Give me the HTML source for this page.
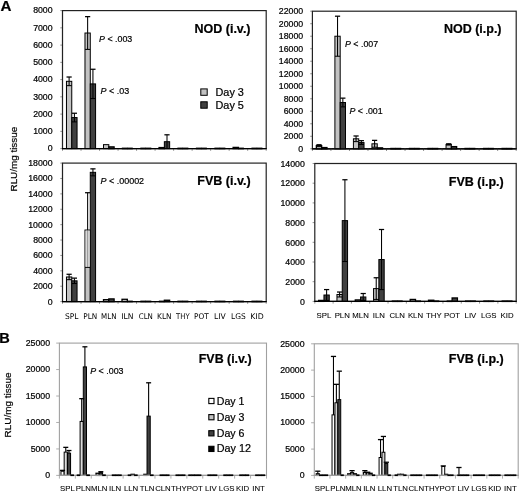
<!DOCTYPE html>
<html lang="en"><head><meta charset="utf-8"><title>Figure</title>
<style>html,body{margin:0;padding:0;background:#fff;}svg{display:block;}text{stroke:#000;stroke-width:0.22px;}</style>
</head><body>
<svg width="520" height="493" viewBox="0 0 520 493">
<defs><filter id="soft" x="0" y="0" width="520" height="493" filterUnits="userSpaceOnUse"><feGaussianBlur stdDeviation="0.35"/></filter></defs>
<rect x="0" y="0" width="520" height="493" fill="#fff"/>
<g filter="url(#soft)">
<rect x="66.46" y="81.32" width="5.3" height="67.28" fill="#c2c2c2" stroke="#000" stroke-width="1"/>
<rect x="84.98" y="33.02" width="5.3" height="115.58" fill="#c2c2c2" stroke="#000" stroke-width="1"/>
<rect x="103.5" y="144.63" width="5.3" height="3.97" fill="#c2c2c2" stroke="#000" stroke-width="1"/>
<rect x="159.05" y="147.56" width="5.3" height="1.04" fill="#c2c2c2" stroke="#000" stroke-width="1.3"/>
<rect x="233.12" y="147.39" width="5.3" height="1.21" fill="#c2c2c2" stroke="#000" stroke-width="1.3"/>
<rect x="71.76" y="117.55" width="5.3" height="31.05" fill="#404040" stroke="#000" stroke-width="1"/>
<rect x="90.28" y="83.91" width="5.3" height="64.69" fill="#404040" stroke="#000" stroke-width="1"/>
<rect x="108.8" y="146.88" width="5.3" height="1.73" fill="#404040" stroke="#000" stroke-width="1.3"/>
<rect x="164.35" y="141.7" width="5.3" height="6.9" fill="#404040" stroke="#000" stroke-width="1"/>
<line x1="69.11" y1="77.01" x2="69.11" y2="85.64" stroke="#000" stroke-width="1.05" />
<line x1="66.51" y1="77.01" x2="71.71" y2="77.01" stroke="#000" stroke-width="1.25" />
<line x1="66.51" y1="85.64" x2="71.71" y2="85.64" stroke="#000" stroke-width="1.05" />
<line x1="87.63" y1="16.64" x2="87.63" y2="49.41" stroke="#000" stroke-width="1.05" />
<line x1="85.03" y1="16.64" x2="90.23" y2="16.64" stroke="#000" stroke-width="1.25" />
<line x1="85.03" y1="49.41" x2="90.23" y2="49.41" stroke="#000" stroke-width="1.05" />
<line x1="74.41" y1="113.24" x2="74.41" y2="121.86" stroke="#000" stroke-width="1.05" />
<line x1="71.81" y1="113.24" x2="77.01" y2="113.24" stroke="#000" stroke-width="1.25" />
<line x1="71.81" y1="121.86" x2="77.01" y2="121.86" stroke="#000" stroke-width="1.05" />
<line x1="92.93" y1="69.25" x2="92.93" y2="98.57" stroke="#000" stroke-width="1.05" />
<line x1="90.33" y1="69.25" x2="95.53" y2="69.25" stroke="#000" stroke-width="1.25" />
<line x1="90.33" y1="98.57" x2="95.53" y2="98.57" stroke="#000" stroke-width="1.05" />
<line x1="167" y1="134.8" x2="167" y2="148.6" stroke="#000" stroke-width="1.05" />
<line x1="164.4" y1="134.8" x2="169.6" y2="134.8" stroke="#000" stroke-width="1.25" />
<line x1="60.3" y1="148.6" x2="62.5" y2="148.6" stroke="#777" stroke-width="0.8" />
<text x="52.6" y="151.3" font-family='"Liberation Sans", Arial, sans-serif' font-size="8.75" text-anchor="end" font-weight="normal" font-style="normal" fill="#000" >0</text>
<line x1="60.3" y1="131.35" x2="62.5" y2="131.35" stroke="#777" stroke-width="0.8" />
<text x="52.6" y="134.05" font-family='"Liberation Sans", Arial, sans-serif' font-size="8.75" text-anchor="end" font-weight="normal" font-style="normal" fill="#000" >1000</text>
<line x1="60.3" y1="114.1" x2="62.5" y2="114.1" stroke="#777" stroke-width="0.8" />
<text x="52.6" y="116.8" font-family='"Liberation Sans", Arial, sans-serif' font-size="8.75" text-anchor="end" font-weight="normal" font-style="normal" fill="#000" >2000</text>
<line x1="60.3" y1="96.85" x2="62.5" y2="96.85" stroke="#777" stroke-width="0.8" />
<text x="52.6" y="99.55" font-family='"Liberation Sans", Arial, sans-serif' font-size="8.75" text-anchor="end" font-weight="normal" font-style="normal" fill="#000" >3000</text>
<line x1="60.3" y1="79.6" x2="62.5" y2="79.6" stroke="#777" stroke-width="0.8" />
<text x="52.6" y="82.3" font-family='"Liberation Sans", Arial, sans-serif' font-size="8.75" text-anchor="end" font-weight="normal" font-style="normal" fill="#000" >4000</text>
<line x1="60.3" y1="62.35" x2="62.5" y2="62.35" stroke="#777" stroke-width="0.8" />
<text x="52.6" y="65.05" font-family='"Liberation Sans", Arial, sans-serif' font-size="8.75" text-anchor="end" font-weight="normal" font-style="normal" fill="#000" >5000</text>
<line x1="60.3" y1="45.1" x2="62.5" y2="45.1" stroke="#777" stroke-width="0.8" />
<text x="52.6" y="47.8" font-family='"Liberation Sans", Arial, sans-serif' font-size="8.75" text-anchor="end" font-weight="normal" font-style="normal" fill="#000" >6000</text>
<line x1="60.3" y1="27.85" x2="62.5" y2="27.85" stroke="#777" stroke-width="0.8" />
<text x="52.6" y="30.55" font-family='"Liberation Sans", Arial, sans-serif' font-size="8.75" text-anchor="end" font-weight="normal" font-style="normal" fill="#000" >7000</text>
<line x1="60.3" y1="10.6" x2="62.5" y2="10.6" stroke="#777" stroke-width="0.8" />
<text x="52.6" y="13.3" font-family='"Liberation Sans", Arial, sans-serif' font-size="8.75" text-anchor="end" font-weight="normal" font-style="normal" fill="#000" >8000</text>
<line x1="62.5" y1="148.6" x2="62.5" y2="150.8" stroke="#777" stroke-width="0.8" />
<line x1="81.02" y1="148.6" x2="81.02" y2="150.8" stroke="#777" stroke-width="0.8" />
<line x1="99.54" y1="148.6" x2="99.54" y2="150.8" stroke="#777" stroke-width="0.8" />
<line x1="118.05" y1="148.6" x2="118.05" y2="150.8" stroke="#777" stroke-width="0.8" />
<line x1="136.57" y1="148.6" x2="136.57" y2="150.8" stroke="#777" stroke-width="0.8" />
<line x1="155.09" y1="148.6" x2="155.09" y2="150.8" stroke="#777" stroke-width="0.8" />
<line x1="173.61" y1="148.6" x2="173.61" y2="150.8" stroke="#777" stroke-width="0.8" />
<line x1="192.13" y1="148.6" x2="192.13" y2="150.8" stroke="#777" stroke-width="0.8" />
<line x1="210.65" y1="148.6" x2="210.65" y2="150.8" stroke="#777" stroke-width="0.8" />
<line x1="229.16" y1="148.6" x2="229.16" y2="150.8" stroke="#777" stroke-width="0.8" />
<line x1="247.68" y1="148.6" x2="247.68" y2="150.8" stroke="#777" stroke-width="0.8" />
<line x1="266.2" y1="148.6" x2="266.2" y2="150.8" stroke="#777" stroke-width="0.8" />
<rect x="62.5" y="10.6" width="203.7" height="138" fill="none" stroke="#222" stroke-width="1.2"/>
<line x1="62" y1="148.6" x2="266.7" y2="148.6" stroke="#000" stroke-width="1.25" />
<line x1="121.81" y1="148.45" x2="127.51" y2="148.45" stroke="#000" stroke-width="1.7" />
<line x1="140.33" y1="148.45" x2="146.03" y2="148.45" stroke="#000" stroke-width="1.7" />
<line x1="177.37" y1="148.45" x2="183.07" y2="148.45" stroke="#000" stroke-width="1.7" />
<line x1="195.89" y1="148.45" x2="201.59" y2="148.45" stroke="#000" stroke-width="1.7" />
<line x1="214.4" y1="148.45" x2="220.1" y2="148.45" stroke="#000" stroke-width="1.7" />
<line x1="251.44" y1="148.45" x2="257.14" y2="148.45" stroke="#000" stroke-width="1.7" />
<line x1="127.11" y1="148.45" x2="132.81" y2="148.45" stroke="#000" stroke-width="1.7" />
<line x1="145.63" y1="148.45" x2="151.33" y2="148.45" stroke="#000" stroke-width="1.7" />
<line x1="182.67" y1="148.45" x2="188.37" y2="148.45" stroke="#000" stroke-width="1.7" />
<line x1="201.19" y1="148.45" x2="206.89" y2="148.45" stroke="#000" stroke-width="1.7" />
<line x1="219.7" y1="148.45" x2="225.4" y2="148.45" stroke="#000" stroke-width="1.7" />
<line x1="238.22" y1="148.45" x2="243.92" y2="148.45" stroke="#000" stroke-width="1.7" />
<line x1="256.74" y1="148.45" x2="262.44" y2="148.45" stroke="#000" stroke-width="1.7" />
<text x="194.5" y="33" font-family='"Liberation Sans", Arial, sans-serif' font-size="12.5" text-anchor="start" font-weight="bold" font-style="normal" fill="#000" >NOD (i.v.)</text>
<rect x="316.36" y="145.67" width="5.3" height="3.13" fill="#c2c2c2" stroke="#000" stroke-width="1.3"/>
<rect x="334.89" y="36.22" width="5.3" height="112.58" fill="#c2c2c2" stroke="#000" stroke-width="1"/>
<rect x="353.42" y="138.79" width="5.3" height="10.01" fill="#c2c2c2" stroke="#000" stroke-width="1"/>
<rect x="371.95" y="143.8" width="5.3" height="5" fill="#c2c2c2" stroke="#000" stroke-width="1"/>
<rect x="446.05" y="144.42" width="5.3" height="4.38" fill="#c2c2c2" stroke="#000" stroke-width="1"/>
<rect x="321.66" y="147.55" width="5.3" height="1.25" fill="#404040" stroke="#000" stroke-width="1.3"/>
<rect x="340.19" y="102.52" width="5.3" height="46.28" fill="#404040" stroke="#000" stroke-width="1"/>
<rect x="358.72" y="142.55" width="5.3" height="6.25" fill="#404040" stroke="#000" stroke-width="1"/>
<rect x="377.25" y="147.86" width="5.3" height="0.94" fill="#404040" stroke="#000" stroke-width="1.3"/>
<rect x="451.35" y="146.61" width="5.3" height="2.19" fill="#404040" stroke="#000" stroke-width="1.3"/>
<line x1="319.01" y1="144.73" x2="319.01" y2="146.61" stroke="#000" stroke-width="1.05" />
<line x1="316.41" y1="144.73" x2="321.61" y2="144.73" stroke="#000" stroke-width="1.25" />
<line x1="316.41" y1="146.61" x2="321.61" y2="146.61" stroke="#000" stroke-width="1.05" />
<line x1="337.54" y1="16.2" x2="337.54" y2="56.23" stroke="#000" stroke-width="1.05" />
<line x1="334.94" y1="16.2" x2="340.14" y2="16.2" stroke="#000" stroke-width="1.25" />
<line x1="334.94" y1="56.23" x2="340.14" y2="56.23" stroke="#000" stroke-width="1.05" />
<line x1="356.07" y1="135.98" x2="356.07" y2="141.61" stroke="#000" stroke-width="1.05" />
<line x1="353.47" y1="135.98" x2="358.67" y2="135.98" stroke="#000" stroke-width="1.25" />
<line x1="353.47" y1="141.61" x2="358.67" y2="141.61" stroke="#000" stroke-width="1.05" />
<line x1="374.6" y1="140.36" x2="374.6" y2="147.24" stroke="#000" stroke-width="1.05" />
<line x1="372" y1="140.36" x2="377.2" y2="140.36" stroke="#000" stroke-width="1.25" />
<line x1="372" y1="147.24" x2="377.2" y2="147.24" stroke="#000" stroke-width="1.05" />
<line x1="448.7" y1="143.8" x2="448.7" y2="145.05" stroke="#000" stroke-width="1.05" />
<line x1="446.1" y1="143.8" x2="451.3" y2="143.8" stroke="#000" stroke-width="1.25" />
<line x1="446.1" y1="145.05" x2="451.3" y2="145.05" stroke="#000" stroke-width="1.05" />
<line x1="342.84" y1="98.14" x2="342.84" y2="106.89" stroke="#000" stroke-width="1.05" />
<line x1="340.24" y1="98.14" x2="345.44" y2="98.14" stroke="#000" stroke-width="1.25" />
<line x1="340.24" y1="106.89" x2="345.44" y2="106.89" stroke="#000" stroke-width="1.05" />
<line x1="361.37" y1="140.67" x2="361.37" y2="144.42" stroke="#000" stroke-width="1.05" />
<line x1="358.77" y1="140.67" x2="363.97" y2="140.67" stroke="#000" stroke-width="1.25" />
<line x1="358.77" y1="144.42" x2="363.97" y2="144.42" stroke="#000" stroke-width="1.05" />
<line x1="310.2" y1="148.8" x2="312.4" y2="148.8" stroke="#777" stroke-width="0.8" />
<text x="303.2" y="152" font-family='"Liberation Sans", Arial, sans-serif' font-size="8.75" text-anchor="end" font-weight="normal" font-style="normal" fill="#000" >0</text>
<line x1="310.2" y1="136.29" x2="312.4" y2="136.29" stroke="#777" stroke-width="0.8" />
<text x="303.2" y="139.49" font-family='"Liberation Sans", Arial, sans-serif' font-size="8.75" text-anchor="end" font-weight="normal" font-style="normal" fill="#000" >2000</text>
<line x1="310.2" y1="123.78" x2="312.4" y2="123.78" stroke="#777" stroke-width="0.8" />
<text x="303.2" y="126.98" font-family='"Liberation Sans", Arial, sans-serif' font-size="8.75" text-anchor="end" font-weight="normal" font-style="normal" fill="#000" >4000</text>
<line x1="310.2" y1="111.27" x2="312.4" y2="111.27" stroke="#777" stroke-width="0.8" />
<text x="303.2" y="114.47" font-family='"Liberation Sans", Arial, sans-serif' font-size="8.75" text-anchor="end" font-weight="normal" font-style="normal" fill="#000" >6000</text>
<line x1="310.2" y1="98.76" x2="312.4" y2="98.76" stroke="#777" stroke-width="0.8" />
<text x="303.2" y="101.96" font-family='"Liberation Sans", Arial, sans-serif' font-size="8.75" text-anchor="end" font-weight="normal" font-style="normal" fill="#000" >8000</text>
<line x1="310.2" y1="86.25" x2="312.4" y2="86.25" stroke="#777" stroke-width="0.8" />
<text x="303.2" y="89.45" font-family='"Liberation Sans", Arial, sans-serif' font-size="8.75" text-anchor="end" font-weight="normal" font-style="normal" fill="#000" >10000</text>
<line x1="310.2" y1="73.75" x2="312.4" y2="73.75" stroke="#777" stroke-width="0.8" />
<text x="303.2" y="76.95" font-family='"Liberation Sans", Arial, sans-serif' font-size="8.75" text-anchor="end" font-weight="normal" font-style="normal" fill="#000" >12000</text>
<line x1="310.2" y1="61.24" x2="312.4" y2="61.24" stroke="#777" stroke-width="0.8" />
<text x="303.2" y="64.44" font-family='"Liberation Sans", Arial, sans-serif' font-size="8.75" text-anchor="end" font-weight="normal" font-style="normal" fill="#000" >14000</text>
<line x1="310.2" y1="48.73" x2="312.4" y2="48.73" stroke="#777" stroke-width="0.8" />
<text x="303.2" y="51.93" font-family='"Liberation Sans", Arial, sans-serif' font-size="8.75" text-anchor="end" font-weight="normal" font-style="normal" fill="#000" >16000</text>
<line x1="310.2" y1="36.22" x2="312.4" y2="36.22" stroke="#777" stroke-width="0.8" />
<text x="303.2" y="39.42" font-family='"Liberation Sans", Arial, sans-serif' font-size="8.75" text-anchor="end" font-weight="normal" font-style="normal" fill="#000" >18000</text>
<line x1="310.2" y1="23.71" x2="312.4" y2="23.71" stroke="#777" stroke-width="0.8" />
<text x="303.2" y="26.91" font-family='"Liberation Sans", Arial, sans-serif' font-size="8.75" text-anchor="end" font-weight="normal" font-style="normal" fill="#000" >20000</text>
<line x1="310.2" y1="11.2" x2="312.4" y2="11.2" stroke="#777" stroke-width="0.8" />
<text x="303.2" y="14.4" font-family='"Liberation Sans", Arial, sans-serif' font-size="8.75" text-anchor="end" font-weight="normal" font-style="normal" fill="#000" >22000</text>
<line x1="312.4" y1="148.8" x2="312.4" y2="151" stroke="#777" stroke-width="0.8" />
<line x1="330.93" y1="148.8" x2="330.93" y2="151" stroke="#777" stroke-width="0.8" />
<line x1="349.45" y1="148.8" x2="349.45" y2="151" stroke="#777" stroke-width="0.8" />
<line x1="367.98" y1="148.8" x2="367.98" y2="151" stroke="#777" stroke-width="0.8" />
<line x1="386.51" y1="148.8" x2="386.51" y2="151" stroke="#777" stroke-width="0.8" />
<line x1="405.04" y1="148.8" x2="405.04" y2="151" stroke="#777" stroke-width="0.8" />
<line x1="423.56" y1="148.8" x2="423.56" y2="151" stroke="#777" stroke-width="0.8" />
<line x1="442.09" y1="148.8" x2="442.09" y2="151" stroke="#777" stroke-width="0.8" />
<line x1="460.62" y1="148.8" x2="460.62" y2="151" stroke="#777" stroke-width="0.8" />
<line x1="479.15" y1="148.8" x2="479.15" y2="151" stroke="#777" stroke-width="0.8" />
<line x1="497.67" y1="148.8" x2="497.67" y2="151" stroke="#777" stroke-width="0.8" />
<line x1="516.2" y1="148.8" x2="516.2" y2="151" stroke="#777" stroke-width="0.8" />
<rect x="312.4" y="11.2" width="203.8" height="137.6" fill="none" stroke="#222" stroke-width="1.2"/>
<line x1="311.9" y1="148.8" x2="516.7" y2="148.8" stroke="#000" stroke-width="1.25" />
<line x1="390.27" y1="148.65" x2="395.97" y2="148.65" stroke="#000" stroke-width="1.7" />
<line x1="408.8" y1="148.65" x2="414.5" y2="148.65" stroke="#000" stroke-width="1.7" />
<line x1="427.33" y1="148.65" x2="433.03" y2="148.65" stroke="#000" stroke-width="1.7" />
<line x1="464.38" y1="148.65" x2="470.08" y2="148.65" stroke="#000" stroke-width="1.7" />
<line x1="482.91" y1="148.65" x2="488.61" y2="148.65" stroke="#000" stroke-width="1.7" />
<line x1="501.44" y1="148.65" x2="507.14" y2="148.65" stroke="#000" stroke-width="1.7" />
<line x1="395.57" y1="148.65" x2="401.27" y2="148.65" stroke="#000" stroke-width="1.7" />
<line x1="414.1" y1="148.65" x2="419.8" y2="148.65" stroke="#000" stroke-width="1.7" />
<line x1="432.63" y1="148.65" x2="438.33" y2="148.65" stroke="#000" stroke-width="1.7" />
<line x1="469.68" y1="148.65" x2="475.38" y2="148.65" stroke="#000" stroke-width="1.7" />
<line x1="488.21" y1="148.65" x2="493.91" y2="148.65" stroke="#000" stroke-width="1.7" />
<line x1="506.74" y1="148.65" x2="512.44" y2="148.65" stroke="#000" stroke-width="1.7" />
<text x="443.9" y="33.3" font-family='"Liberation Sans", Arial, sans-serif' font-size="12.5" text-anchor="start" font-weight="bold" font-style="normal" fill="#000" >NOD (i.p.)</text>
<rect x="66.46" y="276.98" width="5.3" height="24.62" fill="#c2c2c2" stroke="#000" stroke-width="1"/>
<rect x="84.98" y="230.04" width="5.3" height="71.56" fill="#c2c2c2" stroke="#000" stroke-width="1"/>
<rect x="103.5" y="299.68" width="5.3" height="1.92" fill="#c2c2c2" stroke="#000" stroke-width="1.3"/>
<rect x="122.01" y="299.29" width="5.3" height="2.31" fill="#c2c2c2" stroke="#000" stroke-width="1.3"/>
<rect x="71.76" y="280.83" width="5.3" height="20.78" fill="#404040" stroke="#000" stroke-width="1"/>
<rect x="90.28" y="172.33" width="5.3" height="129.27" fill="#404040" stroke="#000" stroke-width="1"/>
<rect x="108.8" y="298.91" width="5.3" height="2.69" fill="#404040" stroke="#000" stroke-width="1.3"/>
<rect x="164.35" y="300.22" width="5.3" height="1.39" fill="#404040" stroke="#000" stroke-width="1.3"/>
<line x1="69.11" y1="274.28" x2="69.11" y2="279.67" stroke="#000" stroke-width="1.05" />
<line x1="66.51" y1="274.28" x2="71.71" y2="274.28" stroke="#000" stroke-width="1.25" />
<line x1="66.51" y1="279.67" x2="71.71" y2="279.67" stroke="#000" stroke-width="1.05" />
<line x1="87.63" y1="192.72" x2="87.63" y2="267.36" stroke="#000" stroke-width="1.05" />
<line x1="85.03" y1="192.72" x2="90.23" y2="192.72" stroke="#000" stroke-width="1.25" />
<line x1="85.03" y1="267.36" x2="90.23" y2="267.36" stroke="#000" stroke-width="1.05" />
<line x1="74.41" y1="278.13" x2="74.41" y2="283.52" stroke="#000" stroke-width="1.05" />
<line x1="71.81" y1="278.13" x2="77.01" y2="278.13" stroke="#000" stroke-width="1.25" />
<line x1="71.81" y1="283.52" x2="77.01" y2="283.52" stroke="#000" stroke-width="1.05" />
<line x1="92.93" y1="168.87" x2="92.93" y2="175.8" stroke="#000" stroke-width="1.05" />
<line x1="90.33" y1="168.87" x2="95.53" y2="168.87" stroke="#000" stroke-width="1.25" />
<line x1="90.33" y1="175.8" x2="95.53" y2="175.8" stroke="#000" stroke-width="1.05" />
<line x1="60.3" y1="301.6" x2="62.5" y2="301.6" stroke="#777" stroke-width="0.8" />
<text x="52.6" y="304.6" font-family='"Liberation Sans", Arial, sans-serif' font-size="8.75" text-anchor="end" font-weight="normal" font-style="normal" fill="#000" >0</text>
<line x1="60.3" y1="286.21" x2="62.5" y2="286.21" stroke="#777" stroke-width="0.8" />
<text x="52.6" y="289.21" font-family='"Liberation Sans", Arial, sans-serif' font-size="8.75" text-anchor="end" font-weight="normal" font-style="normal" fill="#000" >2000</text>
<line x1="60.3" y1="270.82" x2="62.5" y2="270.82" stroke="#777" stroke-width="0.8" />
<text x="52.6" y="273.82" font-family='"Liberation Sans", Arial, sans-serif' font-size="8.75" text-anchor="end" font-weight="normal" font-style="normal" fill="#000" >4000</text>
<line x1="60.3" y1="255.43" x2="62.5" y2="255.43" stroke="#777" stroke-width="0.8" />
<text x="52.6" y="258.43" font-family='"Liberation Sans", Arial, sans-serif' font-size="8.75" text-anchor="end" font-weight="normal" font-style="normal" fill="#000" >6000</text>
<line x1="60.3" y1="240.04" x2="62.5" y2="240.04" stroke="#777" stroke-width="0.8" />
<text x="52.6" y="243.04" font-family='"Liberation Sans", Arial, sans-serif' font-size="8.75" text-anchor="end" font-weight="normal" font-style="normal" fill="#000" >8000</text>
<line x1="60.3" y1="224.66" x2="62.5" y2="224.66" stroke="#777" stroke-width="0.8" />
<text x="52.6" y="227.66" font-family='"Liberation Sans", Arial, sans-serif' font-size="8.75" text-anchor="end" font-weight="normal" font-style="normal" fill="#000" >10000</text>
<line x1="60.3" y1="209.27" x2="62.5" y2="209.27" stroke="#777" stroke-width="0.8" />
<text x="52.6" y="212.27" font-family='"Liberation Sans", Arial, sans-serif' font-size="8.75" text-anchor="end" font-weight="normal" font-style="normal" fill="#000" >12000</text>
<line x1="60.3" y1="193.88" x2="62.5" y2="193.88" stroke="#777" stroke-width="0.8" />
<text x="52.6" y="196.88" font-family='"Liberation Sans", Arial, sans-serif' font-size="8.75" text-anchor="end" font-weight="normal" font-style="normal" fill="#000" >14000</text>
<line x1="60.3" y1="178.49" x2="62.5" y2="178.49" stroke="#777" stroke-width="0.8" />
<text x="52.6" y="181.49" font-family='"Liberation Sans", Arial, sans-serif' font-size="8.75" text-anchor="end" font-weight="normal" font-style="normal" fill="#000" >16000</text>
<line x1="60.3" y1="163.1" x2="62.5" y2="163.1" stroke="#777" stroke-width="0.8" />
<text x="52.6" y="166.1" font-family='"Liberation Sans", Arial, sans-serif' font-size="8.75" text-anchor="end" font-weight="normal" font-style="normal" fill="#000" >18000</text>
<line x1="62.5" y1="301.6" x2="62.5" y2="303.8" stroke="#777" stroke-width="0.8" />
<line x1="81.02" y1="301.6" x2="81.02" y2="303.8" stroke="#777" stroke-width="0.8" />
<line x1="99.54" y1="301.6" x2="99.54" y2="303.8" stroke="#777" stroke-width="0.8" />
<line x1="118.05" y1="301.6" x2="118.05" y2="303.8" stroke="#777" stroke-width="0.8" />
<line x1="136.57" y1="301.6" x2="136.57" y2="303.8" stroke="#777" stroke-width="0.8" />
<line x1="155.09" y1="301.6" x2="155.09" y2="303.8" stroke="#777" stroke-width="0.8" />
<line x1="173.61" y1="301.6" x2="173.61" y2="303.8" stroke="#777" stroke-width="0.8" />
<line x1="192.13" y1="301.6" x2="192.13" y2="303.8" stroke="#777" stroke-width="0.8" />
<line x1="210.65" y1="301.6" x2="210.65" y2="303.8" stroke="#777" stroke-width="0.8" />
<line x1="229.16" y1="301.6" x2="229.16" y2="303.8" stroke="#777" stroke-width="0.8" />
<line x1="247.68" y1="301.6" x2="247.68" y2="303.8" stroke="#777" stroke-width="0.8" />
<line x1="266.2" y1="301.6" x2="266.2" y2="303.8" stroke="#777" stroke-width="0.8" />
<rect x="62.5" y="163.1" width="203.7" height="138.5" fill="none" stroke="#222" stroke-width="1.2"/>
<line x1="62" y1="301.6" x2="266.7" y2="301.6" stroke="#000" stroke-width="1.25" />
<line x1="140.33" y1="301.45" x2="146.03" y2="301.45" stroke="#000" stroke-width="1.7" />
<line x1="158.85" y1="301.45" x2="164.55" y2="301.45" stroke="#000" stroke-width="1.7" />
<line x1="177.37" y1="301.45" x2="183.07" y2="301.45" stroke="#000" stroke-width="1.7" />
<line x1="195.89" y1="301.45" x2="201.59" y2="301.45" stroke="#000" stroke-width="1.7" />
<line x1="214.4" y1="301.45" x2="220.1" y2="301.45" stroke="#000" stroke-width="1.7" />
<line x1="232.92" y1="301.45" x2="238.62" y2="301.45" stroke="#000" stroke-width="1.7" />
<line x1="251.44" y1="301.45" x2="257.14" y2="301.45" stroke="#000" stroke-width="1.7" />
<line x1="127.11" y1="301.45" x2="132.81" y2="301.45" stroke="#000" stroke-width="1.7" />
<line x1="145.63" y1="301.45" x2="151.33" y2="301.45" stroke="#000" stroke-width="1.7" />
<line x1="182.67" y1="301.45" x2="188.37" y2="301.45" stroke="#000" stroke-width="1.7" />
<line x1="201.19" y1="301.45" x2="206.89" y2="301.45" stroke="#000" stroke-width="1.7" />
<line x1="219.7" y1="301.45" x2="225.4" y2="301.45" stroke="#000" stroke-width="1.7" />
<line x1="238.22" y1="301.45" x2="243.92" y2="301.45" stroke="#000" stroke-width="1.7" />
<line x1="256.74" y1="301.45" x2="262.44" y2="301.45" stroke="#000" stroke-width="1.7" />
<text x="71.76" y="319" font-family='"DejaVu Sans", "Liberation Sans", sans-serif' font-size="7.8" text-anchor="middle" font-weight="normal" font-style="normal" fill="#000" textLength="13.4" lengthAdjust="spacingAndGlyphs" style="stroke-width:0px">SPL</text>
<text x="90.28" y="319" font-family='"DejaVu Sans", "Liberation Sans", sans-serif' font-size="7.8" text-anchor="middle" font-weight="normal" font-style="normal" fill="#000" textLength="13.9" lengthAdjust="spacingAndGlyphs" style="stroke-width:0px">PLN</text>
<text x="108.8" y="319" font-family='"DejaVu Sans", "Liberation Sans", sans-serif' font-size="7.8" text-anchor="middle" font-weight="normal" font-style="normal" fill="#000" textLength="15.4" lengthAdjust="spacingAndGlyphs" style="stroke-width:0px">MLN</text>
<text x="127.31" y="319" font-family='"DejaVu Sans", "Liberation Sans", sans-serif' font-size="7.8" text-anchor="middle" font-weight="normal" font-style="normal" fill="#000" textLength="12.2" lengthAdjust="spacingAndGlyphs" style="stroke-width:0px">ILN</text>
<text x="145.83" y="319" font-family='"DejaVu Sans", "Liberation Sans", sans-serif' font-size="7.8" text-anchor="middle" font-weight="normal" font-style="normal" fill="#000" textLength="14.2" lengthAdjust="spacingAndGlyphs" style="stroke-width:0px">CLN</text>
<text x="164.35" y="319" font-family='"DejaVu Sans", "Liberation Sans", sans-serif' font-size="7.8" text-anchor="middle" font-weight="normal" font-style="normal" fill="#000" textLength="14.5" lengthAdjust="spacingAndGlyphs" style="stroke-width:0px">KLN</text>
<text x="182.87" y="319" font-family='"DejaVu Sans", "Liberation Sans", sans-serif' font-size="7.8" text-anchor="middle" font-weight="normal" font-style="normal" fill="#000" textLength="13.5" lengthAdjust="spacingAndGlyphs" style="stroke-width:0px">THY</text>
<text x="201.39" y="319" font-family='"DejaVu Sans", "Liberation Sans", sans-serif' font-size="7.8" text-anchor="middle" font-weight="normal" font-style="normal" fill="#000" textLength="14.7" lengthAdjust="spacingAndGlyphs" style="stroke-width:0px">POT</text>
<text x="219.9" y="319" font-family='"DejaVu Sans", "Liberation Sans", sans-serif' font-size="7.8" text-anchor="middle" font-weight="normal" font-style="normal" fill="#000" textLength="11.7" lengthAdjust="spacingAndGlyphs" style="stroke-width:0px">LIV</text>
<text x="238.42" y="319" font-family='"DejaVu Sans", "Liberation Sans", sans-serif' font-size="7.8" text-anchor="middle" font-weight="normal" font-style="normal" fill="#000" textLength="14.7" lengthAdjust="spacingAndGlyphs" style="stroke-width:0px">LGS</text>
<text x="256.94" y="319" font-family='"DejaVu Sans", "Liberation Sans", sans-serif' font-size="7.8" text-anchor="middle" font-weight="normal" font-style="normal" fill="#000" textLength="13.4" lengthAdjust="spacingAndGlyphs" style="stroke-width:0px">KID</text>
<text x="197.3" y="185" font-family='"Liberation Sans", Arial, sans-serif' font-size="12.5" text-anchor="start" font-weight="bold" font-style="normal" fill="#000" >FVB (i.v.)</text>
<rect x="318.65" y="300.41" width="5.3" height="0.98" fill="#c2c2c2" stroke="#000" stroke-width="1.3"/>
<rect x="336.96" y="294.5" width="5.3" height="6.89" fill="#c2c2c2" stroke="#000" stroke-width="1"/>
<rect x="355.27" y="299.92" width="5.3" height="1.48" fill="#c2c2c2" stroke="#000" stroke-width="1.3"/>
<rect x="373.58" y="288.59" width="5.3" height="12.8" fill="#c2c2c2" stroke="#000" stroke-width="1"/>
<rect x="410.2" y="299.43" width="5.3" height="1.97" fill="#c2c2c2" stroke="#000" stroke-width="1.3"/>
<rect x="428.51" y="300.22" width="5.3" height="1.18" fill="#c2c2c2" stroke="#000" stroke-width="1.3"/>
<rect x="323.95" y="295" width="5.3" height="6.4" fill="#404040" stroke="#000" stroke-width="1"/>
<rect x="342.26" y="220.63" width="5.3" height="80.77" fill="#404040" stroke="#000" stroke-width="1"/>
<rect x="360.57" y="296.97" width="5.3" height="4.43" fill="#404040" stroke="#000" stroke-width="1"/>
<rect x="378.88" y="259.54" width="5.3" height="41.86" fill="#404040" stroke="#000" stroke-width="1"/>
<rect x="452.12" y="297.95" width="5.3" height="3.45" fill="#404040" stroke="#000" stroke-width="1.3"/>
<line x1="339.61" y1="292.04" x2="339.61" y2="296.97" stroke="#000" stroke-width="1.05" />
<line x1="337.01" y1="292.04" x2="342.21" y2="292.04" stroke="#000" stroke-width="1.25" />
<line x1="337.01" y1="296.97" x2="342.21" y2="296.97" stroke="#000" stroke-width="1.05" />
<line x1="376.23" y1="277.76" x2="376.23" y2="299.43" stroke="#000" stroke-width="1.05" />
<line x1="373.63" y1="277.76" x2="378.83" y2="277.76" stroke="#000" stroke-width="1.25" />
<line x1="373.63" y1="299.43" x2="378.83" y2="299.43" stroke="#000" stroke-width="1.05" />
<line x1="326.6" y1="289.58" x2="326.6" y2="300.41" stroke="#000" stroke-width="1.05" />
<line x1="324" y1="289.58" x2="329.2" y2="289.58" stroke="#000" stroke-width="1.25" />
<line x1="324" y1="300.41" x2="329.2" y2="300.41" stroke="#000" stroke-width="1.05" />
<line x1="344.91" y1="179.75" x2="344.91" y2="261.51" stroke="#000" stroke-width="1.05" />
<line x1="342.31" y1="179.75" x2="347.51" y2="179.75" stroke="#000" stroke-width="1.25" />
<line x1="342.31" y1="261.51" x2="347.51" y2="261.51" stroke="#000" stroke-width="1.05" />
<line x1="363.22" y1="293.52" x2="363.22" y2="300.41" stroke="#000" stroke-width="1.05" />
<line x1="360.62" y1="293.52" x2="365.82" y2="293.52" stroke="#000" stroke-width="1.25" />
<line x1="360.62" y1="300.41" x2="365.82" y2="300.41" stroke="#000" stroke-width="1.05" />
<line x1="381.53" y1="229.5" x2="381.53" y2="289.58" stroke="#000" stroke-width="1.05" />
<line x1="378.93" y1="229.5" x2="384.13" y2="229.5" stroke="#000" stroke-width="1.25" />
<line x1="378.93" y1="289.58" x2="384.13" y2="289.58" stroke="#000" stroke-width="1.05" />
<line x1="312.6" y1="301.4" x2="314.8" y2="301.4" stroke="#777" stroke-width="0.8" />
<text x="304.8" y="304.6" font-family='"Liberation Sans", Arial, sans-serif' font-size="8.75" text-anchor="end" font-weight="normal" font-style="normal" fill="#000" >0</text>
<line x1="312.6" y1="281.7" x2="314.8" y2="281.7" stroke="#777" stroke-width="0.8" />
<text x="304.8" y="284.9" font-family='"Liberation Sans", Arial, sans-serif' font-size="8.75" text-anchor="end" font-weight="normal" font-style="normal" fill="#000" >2000</text>
<line x1="312.6" y1="262" x2="314.8" y2="262" stroke="#777" stroke-width="0.8" />
<text x="304.8" y="265.2" font-family='"Liberation Sans", Arial, sans-serif' font-size="8.75" text-anchor="end" font-weight="normal" font-style="normal" fill="#000" >4000</text>
<line x1="312.6" y1="242.3" x2="314.8" y2="242.3" stroke="#777" stroke-width="0.8" />
<text x="304.8" y="245.5" font-family='"Liberation Sans", Arial, sans-serif' font-size="8.75" text-anchor="end" font-weight="normal" font-style="normal" fill="#000" >6000</text>
<line x1="312.6" y1="222.6" x2="314.8" y2="222.6" stroke="#777" stroke-width="0.8" />
<text x="304.8" y="225.8" font-family='"Liberation Sans", Arial, sans-serif' font-size="8.75" text-anchor="end" font-weight="normal" font-style="normal" fill="#000" >8000</text>
<line x1="312.6" y1="202.9" x2="314.8" y2="202.9" stroke="#777" stroke-width="0.8" />
<text x="304.8" y="206.1" font-family='"Liberation Sans", Arial, sans-serif' font-size="8.75" text-anchor="end" font-weight="normal" font-style="normal" fill="#000" >10000</text>
<line x1="312.6" y1="183.2" x2="314.8" y2="183.2" stroke="#777" stroke-width="0.8" />
<text x="304.8" y="186.4" font-family='"Liberation Sans", Arial, sans-serif' font-size="8.75" text-anchor="end" font-weight="normal" font-style="normal" fill="#000" >12000</text>
<line x1="312.6" y1="163.5" x2="314.8" y2="163.5" stroke="#777" stroke-width="0.8" />
<text x="304.8" y="166.7" font-family='"Liberation Sans", Arial, sans-serif' font-size="8.75" text-anchor="end" font-weight="normal" font-style="normal" fill="#000" >14000</text>
<line x1="314.8" y1="301.4" x2="314.8" y2="303.6" stroke="#777" stroke-width="0.8" />
<line x1="333.11" y1="301.4" x2="333.11" y2="303.6" stroke="#777" stroke-width="0.8" />
<line x1="351.42" y1="301.4" x2="351.42" y2="303.6" stroke="#777" stroke-width="0.8" />
<line x1="369.73" y1="301.4" x2="369.73" y2="303.6" stroke="#777" stroke-width="0.8" />
<line x1="388.04" y1="301.4" x2="388.04" y2="303.6" stroke="#777" stroke-width="0.8" />
<line x1="406.35" y1="301.4" x2="406.35" y2="303.6" stroke="#777" stroke-width="0.8" />
<line x1="424.65" y1="301.4" x2="424.65" y2="303.6" stroke="#777" stroke-width="0.8" />
<line x1="442.96" y1="301.4" x2="442.96" y2="303.6" stroke="#777" stroke-width="0.8" />
<line x1="461.27" y1="301.4" x2="461.27" y2="303.6" stroke="#777" stroke-width="0.8" />
<line x1="479.58" y1="301.4" x2="479.58" y2="303.6" stroke="#777" stroke-width="0.8" />
<line x1="497.89" y1="301.4" x2="497.89" y2="303.6" stroke="#777" stroke-width="0.8" />
<line x1="516.2" y1="301.4" x2="516.2" y2="303.6" stroke="#777" stroke-width="0.8" />
<rect x="314.8" y="163.5" width="201.4" height="137.9" fill="none" stroke="#222" stroke-width="1.2"/>
<line x1="314.3" y1="301.4" x2="516.7" y2="301.4" stroke="#000" stroke-width="1.25" />
<line x1="391.69" y1="301.25" x2="397.39" y2="301.25" stroke="#000" stroke-width="1.7" />
<line x1="446.62" y1="301.25" x2="452.32" y2="301.25" stroke="#000" stroke-width="1.7" />
<line x1="464.93" y1="301.25" x2="470.63" y2="301.25" stroke="#000" stroke-width="1.7" />
<line x1="483.24" y1="301.25" x2="488.94" y2="301.25" stroke="#000" stroke-width="1.7" />
<line x1="501.55" y1="301.25" x2="507.25" y2="301.25" stroke="#000" stroke-width="1.7" />
<line x1="396.99" y1="301.25" x2="402.69" y2="301.25" stroke="#000" stroke-width="1.7" />
<line x1="415.3" y1="301.25" x2="421" y2="301.25" stroke="#000" stroke-width="1.7" />
<line x1="433.61" y1="301.25" x2="439.31" y2="301.25" stroke="#000" stroke-width="1.7" />
<line x1="470.23" y1="301.25" x2="475.93" y2="301.25" stroke="#000" stroke-width="1.7" />
<line x1="488.54" y1="301.25" x2="494.24" y2="301.25" stroke="#000" stroke-width="1.7" />
<line x1="506.85" y1="301.25" x2="512.55" y2="301.25" stroke="#000" stroke-width="1.7" />
<text x="323.95" y="317.9" font-family='"Liberation Sans", Arial, sans-serif' font-size="7.8" text-anchor="middle" font-weight="normal" font-style="normal" fill="#000" style="stroke-width:0.08px">SPL</text>
<text x="342.26" y="317.9" font-family='"Liberation Sans", Arial, sans-serif' font-size="7.8" text-anchor="middle" font-weight="normal" font-style="normal" fill="#000" style="stroke-width:0.08px">PLN</text>
<text x="360.57" y="317.9" font-family='"Liberation Sans", Arial, sans-serif' font-size="7.8" text-anchor="middle" font-weight="normal" font-style="normal" fill="#000" style="stroke-width:0.08px">MLN</text>
<text x="378.88" y="317.9" font-family='"Liberation Sans", Arial, sans-serif' font-size="7.8" text-anchor="middle" font-weight="normal" font-style="normal" fill="#000" style="stroke-width:0.08px">ILN</text>
<text x="397.19" y="317.9" font-family='"Liberation Sans", Arial, sans-serif' font-size="7.8" text-anchor="middle" font-weight="normal" font-style="normal" fill="#000" style="stroke-width:0.08px">CLN</text>
<text x="415.5" y="317.9" font-family='"Liberation Sans", Arial, sans-serif' font-size="7.8" text-anchor="middle" font-weight="normal" font-style="normal" fill="#000" style="stroke-width:0.08px">KLN</text>
<text x="433.81" y="317.9" font-family='"Liberation Sans", Arial, sans-serif' font-size="7.8" text-anchor="middle" font-weight="normal" font-style="normal" fill="#000" style="stroke-width:0.08px">THY</text>
<text x="452.12" y="317.9" font-family='"Liberation Sans", Arial, sans-serif' font-size="7.8" text-anchor="middle" font-weight="normal" font-style="normal" fill="#000" style="stroke-width:0.08px">POT</text>
<text x="470.43" y="317.9" font-family='"Liberation Sans", Arial, sans-serif' font-size="7.8" text-anchor="middle" font-weight="normal" font-style="normal" fill="#000" style="stroke-width:0.08px">LIV</text>
<text x="488.74" y="317.9" font-family='"Liberation Sans", Arial, sans-serif' font-size="7.8" text-anchor="middle" font-weight="normal" font-style="normal" fill="#000" style="stroke-width:0.08px">LGS</text>
<text x="507.05" y="317.9" font-family='"Liberation Sans", Arial, sans-serif' font-size="7.8" text-anchor="middle" font-weight="normal" font-style="normal" fill="#000" style="stroke-width:0.08px">KID</text>
<text x="448.8" y="185.5" font-family='"Liberation Sans", Arial, sans-serif' font-size="12.5" text-anchor="start" font-weight="bold" font-style="normal" fill="#000" >FVB (i.p.)</text>
<rect x="60.97" y="471.17" width="3.2" height="4.23" fill="#fff" stroke="#000" stroke-width="1"/>
<rect x="64.17" y="452.12" width="3.2" height="23.28" fill="#dcdcdc" stroke="#000" stroke-width="1"/>
<rect x="80.1" y="421.42" width="3.2" height="53.98" fill="#dcdcdc" stroke="#000" stroke-width="1"/>
<rect x="96.03" y="473.28" width="3.2" height="2.12" fill="#dcdcdc" stroke="#000" stroke-width="1.3"/>
<rect x="143.82" y="474.34" width="3.2" height="1.06" fill="#dcdcdc" stroke="#000" stroke-width="1.3"/>
<rect x="67.37" y="453.17" width="3.2" height="22.23" fill="#404040" stroke="#000" stroke-width="1"/>
<rect x="83.3" y="366.91" width="3.2" height="108.49" fill="#404040" stroke="#000" stroke-width="1"/>
<rect x="99.23" y="472.75" width="3.2" height="2.65" fill="#404040" stroke="#000" stroke-width="1.3"/>
<rect x="131.09" y="474.34" width="3.2" height="1.06" fill="#404040" stroke="#000" stroke-width="1.3"/>
<rect x="147.02" y="416.13" width="3.2" height="59.27" fill="#404040" stroke="#000" stroke-width="1"/>
<line x1="62.57" y1="470.37" x2="62.57" y2="471.17" stroke="#000" stroke-width="1.1" />
<line x1="60.07" y1="470.37" x2="65.07" y2="470.37" stroke="#000" stroke-width="1.3" />
<line x1="65.77" y1="447.35" x2="65.77" y2="452.12" stroke="#000" stroke-width="1.1" />
<line x1="63.27" y1="447.35" x2="68.27" y2="447.35" stroke="#000" stroke-width="1.3" />
<line x1="81.7" y1="398.67" x2="81.7" y2="421.42" stroke="#000" stroke-width="1.1" />
<line x1="79.2" y1="398.67" x2="84.2" y2="398.67" stroke="#000" stroke-width="1.3" />
<line x1="68.97" y1="450.53" x2="68.97" y2="453.17" stroke="#000" stroke-width="1.1" />
<line x1="66.47" y1="450.53" x2="71.47" y2="450.53" stroke="#000" stroke-width="1.3" />
<line x1="84.9" y1="346.8" x2="84.9" y2="366.91" stroke="#000" stroke-width="1.1" />
<line x1="82.4" y1="346.8" x2="87.4" y2="346.8" stroke="#000" stroke-width="1.3" />
<line x1="100.83" y1="471.7" x2="100.83" y2="472.75" stroke="#000" stroke-width="1.1" />
<line x1="98.33" y1="471.7" x2="103.33" y2="471.7" stroke="#000" stroke-width="1.3" />
<line x1="148.62" y1="382.79" x2="148.62" y2="416.13" stroke="#000" stroke-width="1.1" />
<line x1="146.12" y1="382.79" x2="151.12" y2="382.79" stroke="#000" stroke-width="1.3" />
<line x1="56.2" y1="475.4" x2="59.4" y2="475.4" stroke="#999" stroke-width="0.8" />
<text x="50.1" y="478.1" font-family='"Liberation Sans", Arial, sans-serif' font-size="8.75" text-anchor="end" font-weight="normal" font-style="normal" fill="#000" >0</text>
<line x1="56.2" y1="448.94" x2="59.4" y2="448.94" stroke="#999" stroke-width="0.8" />
<text x="50.1" y="451.64" font-family='"Liberation Sans", Arial, sans-serif' font-size="8.75" text-anchor="end" font-weight="normal" font-style="normal" fill="#000" >5000</text>
<line x1="56.2" y1="422.48" x2="59.4" y2="422.48" stroke="#999" stroke-width="0.8" />
<text x="50.1" y="425.18" font-family='"Liberation Sans", Arial, sans-serif' font-size="8.75" text-anchor="end" font-weight="normal" font-style="normal" fill="#000" >10000</text>
<line x1="56.2" y1="396.02" x2="59.4" y2="396.02" stroke="#999" stroke-width="0.8" />
<text x="50.1" y="398.72" font-family='"Liberation Sans", Arial, sans-serif' font-size="8.75" text-anchor="end" font-weight="normal" font-style="normal" fill="#000" >15000</text>
<line x1="56.2" y1="369.56" x2="59.4" y2="369.56" stroke="#999" stroke-width="0.8" />
<text x="50.1" y="372.26" font-family='"Liberation Sans", Arial, sans-serif' font-size="8.75" text-anchor="end" font-weight="normal" font-style="normal" fill="#000" >20000</text>
<line x1="56.2" y1="343.1" x2="59.4" y2="343.1" stroke="#999" stroke-width="0.8" />
<text x="50.1" y="345.8" font-family='"Liberation Sans", Arial, sans-serif' font-size="8.75" text-anchor="end" font-weight="normal" font-style="normal" fill="#000" >25000</text>
<line x1="59.4" y1="475.4" x2="59.4" y2="478.6" stroke="#999" stroke-width="0.8" />
<line x1="75.33" y1="475.4" x2="75.33" y2="478.6" stroke="#999" stroke-width="0.8" />
<line x1="91.26" y1="475.4" x2="91.26" y2="478.6" stroke="#999" stroke-width="0.8" />
<line x1="107.19" y1="475.4" x2="107.19" y2="478.6" stroke="#999" stroke-width="0.8" />
<line x1="123.12" y1="475.4" x2="123.12" y2="478.6" stroke="#999" stroke-width="0.8" />
<line x1="139.05" y1="475.4" x2="139.05" y2="478.6" stroke="#999" stroke-width="0.8" />
<line x1="154.98" y1="475.4" x2="154.98" y2="478.6" stroke="#999" stroke-width="0.8" />
<line x1="170.92" y1="475.4" x2="170.92" y2="478.6" stroke="#999" stroke-width="0.8" />
<line x1="186.85" y1="475.4" x2="186.85" y2="478.6" stroke="#999" stroke-width="0.8" />
<line x1="202.78" y1="475.4" x2="202.78" y2="478.6" stroke="#999" stroke-width="0.8" />
<line x1="218.71" y1="475.4" x2="218.71" y2="478.6" stroke="#999" stroke-width="0.8" />
<line x1="234.64" y1="475.4" x2="234.64" y2="478.6" stroke="#999" stroke-width="0.8" />
<line x1="250.57" y1="475.4" x2="250.57" y2="478.6" stroke="#999" stroke-width="0.8" />
<line x1="266.5" y1="475.4" x2="266.5" y2="478.6" stroke="#999" stroke-width="0.8" />
<rect x="59.4" y="343.1" width="207.1" height="132.3" fill="none" stroke="#a0a0a0" stroke-width="1.1"/>
<line x1="58.9" y1="475.4" x2="267" y2="475.4" stroke="#9a9a9a" stroke-width="1.1" />
<line x1="76.7" y1="475.25" x2="80.3" y2="475.25" stroke="#000" stroke-width="1.7" />
<line x1="188.21" y1="475.25" x2="191.81" y2="475.25" stroke="#000" stroke-width="1.7" />
<line x1="111.76" y1="475.25" x2="115.36" y2="475.25" stroke="#000" stroke-width="1.7" />
<line x1="127.69" y1="475.25" x2="131.29" y2="475.25" stroke="#000" stroke-width="1.7" />
<line x1="159.55" y1="475.25" x2="163.15" y2="475.25" stroke="#000" stroke-width="1.7" />
<line x1="175.48" y1="475.25" x2="179.08" y2="475.25" stroke="#000" stroke-width="1.7" />
<line x1="191.41" y1="475.25" x2="195.01" y2="475.25" stroke="#000" stroke-width="1.7" />
<line x1="207.34" y1="475.25" x2="210.94" y2="475.25" stroke="#000" stroke-width="1.7" />
<line x1="223.27" y1="475.25" x2="226.87" y2="475.25" stroke="#000" stroke-width="1.7" />
<line x1="239.2" y1="475.25" x2="242.8" y2="475.25" stroke="#000" stroke-width="1.7" />
<line x1="255.13" y1="475.25" x2="258.73" y2="475.25" stroke="#000" stroke-width="1.7" />
<line x1="114.96" y1="475.25" x2="118.56" y2="475.25" stroke="#000" stroke-width="1.7" />
<line x1="162.75" y1="475.25" x2="166.35" y2="475.25" stroke="#000" stroke-width="1.7" />
<line x1="178.68" y1="475.25" x2="182.28" y2="475.25" stroke="#000" stroke-width="1.7" />
<line x1="194.61" y1="475.25" x2="198.21" y2="475.25" stroke="#000" stroke-width="1.7" />
<line x1="210.54" y1="475.25" x2="214.14" y2="475.25" stroke="#000" stroke-width="1.7" />
<line x1="226.47" y1="475.25" x2="230.07" y2="475.25" stroke="#000" stroke-width="1.7" />
<line x1="242.4" y1="475.25" x2="246" y2="475.25" stroke="#000" stroke-width="1.7" />
<line x1="258.33" y1="475.25" x2="261.93" y2="475.25" stroke="#000" stroke-width="1.7" />
<line x1="70.37" y1="475.25" x2="73.97" y2="475.25" stroke="#000" stroke-width="1.7" />
<line x1="86.3" y1="475.25" x2="89.9" y2="475.25" stroke="#000" stroke-width="1.7" />
<line x1="102.23" y1="475.25" x2="105.83" y2="475.25" stroke="#000" stroke-width="1.7" />
<line x1="118.16" y1="475.25" x2="121.76" y2="475.25" stroke="#000" stroke-width="1.7" />
<line x1="134.09" y1="475.25" x2="137.69" y2="475.25" stroke="#000" stroke-width="1.7" />
<line x1="150.02" y1="475.25" x2="153.62" y2="475.25" stroke="#000" stroke-width="1.7" />
<line x1="165.95" y1="475.25" x2="169.55" y2="475.25" stroke="#000" stroke-width="1.7" />
<line x1="181.88" y1="475.25" x2="185.48" y2="475.25" stroke="#000" stroke-width="1.7" />
<line x1="197.81" y1="475.25" x2="201.41" y2="475.25" stroke="#000" stroke-width="1.7" />
<line x1="213.74" y1="475.25" x2="217.34" y2="475.25" stroke="#000" stroke-width="1.7" />
<line x1="229.67" y1="475.25" x2="233.27" y2="475.25" stroke="#000" stroke-width="1.7" />
<line x1="245.6" y1="475.25" x2="249.2" y2="475.25" stroke="#000" stroke-width="1.7" />
<line x1="261.53" y1="475.25" x2="265.13" y2="475.25" stroke="#000" stroke-width="1.7" />
<text transform="translate(67.37,491.2) scale(1.0,1)" font-family='"Liberation Sans", Arial, sans-serif' font-size="7.8" text-anchor="middle" style="stroke-width:0.08px">SPL</text>
<text transform="translate(83.3,491.2) scale(1.0,1)" font-family='"Liberation Sans", Arial, sans-serif' font-size="7.8" text-anchor="middle" style="stroke-width:0.08px">PLN</text>
<text transform="translate(99.23,491.2) scale(1.0,1)" font-family='"Liberation Sans", Arial, sans-serif' font-size="7.8" text-anchor="middle" style="stroke-width:0.08px">MLN</text>
<text transform="translate(115.16,491.2) scale(1.0,1)" font-family='"Liberation Sans", Arial, sans-serif' font-size="7.8" text-anchor="middle" style="stroke-width:0.08px">ILN</text>
<text transform="translate(131.09,491.2) scale(1.0,1)" font-family='"Liberation Sans", Arial, sans-serif' font-size="7.8" text-anchor="middle" style="stroke-width:0.08px">LLN</text>
<text transform="translate(147.02,491.2) scale(1.0,1)" font-family='"Liberation Sans", Arial, sans-serif' font-size="7.8" text-anchor="middle" style="stroke-width:0.08px">TLN</text>
<text transform="translate(162.95,491.2) scale(1.0,1)" font-family='"Liberation Sans", Arial, sans-serif' font-size="7.8" text-anchor="middle" style="stroke-width:0.08px">CLN</text>
<text transform="translate(178.88,491.2) scale(1.0,1)" font-family='"Liberation Sans", Arial, sans-serif' font-size="7.8" text-anchor="middle" style="stroke-width:0.08px">THY</text>
<text transform="translate(194.81,491.2) scale(1.0,1)" font-family='"Liberation Sans", Arial, sans-serif' font-size="7.8" text-anchor="middle" style="stroke-width:0.08px">POT</text>
<text transform="translate(210.74,491.2) scale(1.0,1)" font-family='"Liberation Sans", Arial, sans-serif' font-size="7.8" text-anchor="middle" style="stroke-width:0.08px">LIV</text>
<text transform="translate(226.67,491.2) scale(1.0,1)" font-family='"Liberation Sans", Arial, sans-serif' font-size="7.8" text-anchor="middle" style="stroke-width:0.08px">LGS</text>
<text transform="translate(242.6,491.2) scale(1.0,1)" font-family='"Liberation Sans", Arial, sans-serif' font-size="7.8" text-anchor="middle" style="stroke-width:0.08px">KID</text>
<text transform="translate(258.53,491.2) scale(1.0,1)" font-family='"Liberation Sans", Arial, sans-serif' font-size="7.8" text-anchor="middle" style="stroke-width:0.08px">INT</text>
<text x="198.8" y="363.3" font-family='"Liberation Sans", Arial, sans-serif' font-size="12.4" text-anchor="start" font-weight="bold" font-style="normal" fill="#000" >FVB (i.v.)</text>
<rect x="316.34" y="473.82" width="2.9" height="1.58" fill="#fff" stroke="#000" stroke-width="1.3"/>
<rect x="332.03" y="414.86" width="2.9" height="60.54" fill="#fff" stroke="#000" stroke-width="1"/>
<rect x="347.71" y="473.82" width="2.9" height="1.58" fill="#fff" stroke="#000" stroke-width="1.3"/>
<rect x="363.4" y="472.5" width="2.9" height="2.9" fill="#fff" stroke="#000" stroke-width="1.3"/>
<rect x="379.08" y="457.5" width="2.9" height="17.9" fill="#fff" stroke="#000" stroke-width="1"/>
<rect x="441.82" y="466.45" width="2.9" height="8.95" fill="#fff" stroke="#000" stroke-width="1"/>
<rect x="334.93" y="402.76" width="2.9" height="72.64" fill="#d4d4d4" stroke="#000" stroke-width="1"/>
<rect x="350.61" y="472.77" width="2.9" height="2.63" fill="#d4d4d4" stroke="#000" stroke-width="1.3"/>
<rect x="366.3" y="472.77" width="2.9" height="2.63" fill="#d4d4d4" stroke="#000" stroke-width="1.3"/>
<rect x="381.98" y="452.24" width="2.9" height="23.16" fill="#d4d4d4" stroke="#000" stroke-width="1"/>
<rect x="397.67" y="474.35" width="2.9" height="1.05" fill="#d4d4d4" stroke="#000" stroke-width="1.3"/>
<rect x="444.72" y="474.35" width="2.9" height="1.05" fill="#d4d4d4" stroke="#000" stroke-width="1.3"/>
<rect x="337.83" y="399.6" width="2.9" height="75.8" fill="#404040" stroke="#000" stroke-width="1"/>
<rect x="353.51" y="473.82" width="2.9" height="1.58" fill="#404040" stroke="#000" stroke-width="1.3"/>
<rect x="369.2" y="473.29" width="2.9" height="2.11" fill="#404040" stroke="#000" stroke-width="1.3"/>
<rect x="384.88" y="463.56" width="2.9" height="11.84" fill="#404040" stroke="#000" stroke-width="1"/>
<rect x="400.57" y="474.35" width="2.9" height="1.05" fill="#404040" stroke="#000" stroke-width="1.3"/>
<line x1="317.79" y1="471.19" x2="317.79" y2="473.82" stroke="#000" stroke-width="1.1" />
<line x1="315.19" y1="471.19" x2="320.39" y2="471.19" stroke="#000" stroke-width="1.3" />
<line x1="333.48" y1="356.43" x2="333.48" y2="414.86" stroke="#000" stroke-width="1.1" />
<line x1="330.88" y1="356.43" x2="336.08" y2="356.43" stroke="#000" stroke-width="1.3" />
<line x1="364.85" y1="470.66" x2="364.85" y2="472.5" stroke="#000" stroke-width="1.1" />
<line x1="362.25" y1="470.66" x2="367.45" y2="470.66" stroke="#000" stroke-width="1.3" />
<line x1="380.53" y1="439.6" x2="380.53" y2="457.5" stroke="#000" stroke-width="1.1" />
<line x1="377.93" y1="439.6" x2="383.13" y2="439.6" stroke="#000" stroke-width="1.3" />
<line x1="443.27" y1="465.92" x2="443.27" y2="466.45" stroke="#000" stroke-width="1.1" />
<line x1="440.67" y1="465.92" x2="445.87" y2="465.92" stroke="#000" stroke-width="1.3" />
<line x1="458.95" y1="467.5" x2="458.95" y2="474.87" stroke="#000" stroke-width="1.1" />
<line x1="456.35" y1="467.5" x2="461.55" y2="467.5" stroke="#000" stroke-width="1.3" />
<line x1="336.38" y1="384.33" x2="336.38" y2="402.76" stroke="#000" stroke-width="1.1" />
<line x1="333.78" y1="384.33" x2="338.98" y2="384.33" stroke="#000" stroke-width="1.3" />
<line x1="352.06" y1="470.66" x2="352.06" y2="472.77" stroke="#000" stroke-width="1.1" />
<line x1="349.46" y1="470.66" x2="354.66" y2="470.66" stroke="#000" stroke-width="1.3" />
<line x1="367.75" y1="472.24" x2="367.75" y2="472.77" stroke="#000" stroke-width="1.1" />
<line x1="365.15" y1="472.24" x2="370.35" y2="472.24" stroke="#000" stroke-width="1.3" />
<line x1="383.43" y1="436.45" x2="383.43" y2="452.24" stroke="#000" stroke-width="1.1" />
<line x1="380.83" y1="436.45" x2="386.03" y2="436.45" stroke="#000" stroke-width="1.3" />
<line x1="339.28" y1="371.17" x2="339.28" y2="399.6" stroke="#000" stroke-width="1.1" />
<line x1="336.68" y1="371.17" x2="341.88" y2="371.17" stroke="#000" stroke-width="1.3" />
<line x1="386.33" y1="462.24" x2="386.33" y2="463.56" stroke="#000" stroke-width="1.1" />
<line x1="383.73" y1="462.24" x2="388.93" y2="462.24" stroke="#000" stroke-width="1.3" />
<line x1="311.1" y1="475.4" x2="314.3" y2="475.4" stroke="#999" stroke-width="0.8" />
<text x="304.6" y="478.1" font-family='"Liberation Sans", Arial, sans-serif' font-size="8.75" text-anchor="end" font-weight="normal" font-style="normal" fill="#000" >0</text>
<line x1="311.1" y1="449.08" x2="314.3" y2="449.08" stroke="#999" stroke-width="0.8" />
<text x="304.6" y="451.78" font-family='"Liberation Sans", Arial, sans-serif' font-size="8.75" text-anchor="end" font-weight="normal" font-style="normal" fill="#000" >5000</text>
<line x1="311.1" y1="422.76" x2="314.3" y2="422.76" stroke="#999" stroke-width="0.8" />
<text x="304.6" y="425.46" font-family='"Liberation Sans", Arial, sans-serif' font-size="8.75" text-anchor="end" font-weight="normal" font-style="normal" fill="#000" >10000</text>
<line x1="311.1" y1="396.44" x2="314.3" y2="396.44" stroke="#999" stroke-width="0.8" />
<text x="304.6" y="399.14" font-family='"Liberation Sans", Arial, sans-serif' font-size="8.75" text-anchor="end" font-weight="normal" font-style="normal" fill="#000" >15000</text>
<line x1="311.1" y1="370.12" x2="314.3" y2="370.12" stroke="#999" stroke-width="0.8" />
<text x="304.6" y="372.82" font-family='"Liberation Sans", Arial, sans-serif' font-size="8.75" text-anchor="end" font-weight="normal" font-style="normal" fill="#000" >20000</text>
<line x1="311.1" y1="343.8" x2="314.3" y2="343.8" stroke="#999" stroke-width="0.8" />
<text x="304.6" y="346.5" font-family='"Liberation Sans", Arial, sans-serif' font-size="8.75" text-anchor="end" font-weight="normal" font-style="normal" fill="#000" >25000</text>
<line x1="314.3" y1="475.4" x2="314.3" y2="478.6" stroke="#999" stroke-width="0.8" />
<line x1="329.98" y1="475.4" x2="329.98" y2="478.6" stroke="#999" stroke-width="0.8" />
<line x1="345.67" y1="475.4" x2="345.67" y2="478.6" stroke="#999" stroke-width="0.8" />
<line x1="361.35" y1="475.4" x2="361.35" y2="478.6" stroke="#999" stroke-width="0.8" />
<line x1="377.04" y1="475.4" x2="377.04" y2="478.6" stroke="#999" stroke-width="0.8" />
<line x1="392.72" y1="475.4" x2="392.72" y2="478.6" stroke="#999" stroke-width="0.8" />
<line x1="408.41" y1="475.4" x2="408.41" y2="478.6" stroke="#999" stroke-width="0.8" />
<line x1="424.09" y1="475.4" x2="424.09" y2="478.6" stroke="#999" stroke-width="0.8" />
<line x1="439.78" y1="475.4" x2="439.78" y2="478.6" stroke="#999" stroke-width="0.8" />
<line x1="455.46" y1="475.4" x2="455.46" y2="478.6" stroke="#999" stroke-width="0.8" />
<line x1="471.15" y1="475.4" x2="471.15" y2="478.6" stroke="#999" stroke-width="0.8" />
<line x1="486.83" y1="475.4" x2="486.83" y2="478.6" stroke="#999" stroke-width="0.8" />
<line x1="502.52" y1="475.4" x2="502.52" y2="478.6" stroke="#999" stroke-width="0.8" />
<line x1="518.2" y1="475.4" x2="518.2" y2="478.6" stroke="#999" stroke-width="0.8" />
<rect x="314.3" y="343.8" width="203.9" height="131.6" fill="none" stroke="#a0a0a0" stroke-width="1.1"/>
<line x1="313.8" y1="475.4" x2="518.7" y2="475.4" stroke="#9a9a9a" stroke-width="1.1" />
<line x1="394.57" y1="475.25" x2="397.87" y2="475.25" stroke="#000" stroke-width="1.7" />
<line x1="410.25" y1="475.25" x2="413.55" y2="475.25" stroke="#000" stroke-width="1.7" />
<line x1="425.93" y1="475.25" x2="429.23" y2="475.25" stroke="#000" stroke-width="1.7" />
<line x1="457.3" y1="475.25" x2="460.6" y2="475.25" stroke="#000" stroke-width="1.7" />
<line x1="472.99" y1="475.25" x2="476.29" y2="475.25" stroke="#000" stroke-width="1.7" />
<line x1="488.67" y1="475.25" x2="491.97" y2="475.25" stroke="#000" stroke-width="1.7" />
<line x1="504.36" y1="475.25" x2="507.66" y2="475.25" stroke="#000" stroke-width="1.7" />
<line x1="319.04" y1="475.25" x2="322.34" y2="475.25" stroke="#000" stroke-width="1.7" />
<line x1="413.15" y1="475.25" x2="416.45" y2="475.25" stroke="#000" stroke-width="1.7" />
<line x1="428.83" y1="475.25" x2="432.13" y2="475.25" stroke="#000" stroke-width="1.7" />
<line x1="460.2" y1="475.25" x2="463.5" y2="475.25" stroke="#000" stroke-width="1.7" />
<line x1="475.89" y1="475.25" x2="479.19" y2="475.25" stroke="#000" stroke-width="1.7" />
<line x1="491.57" y1="475.25" x2="494.87" y2="475.25" stroke="#000" stroke-width="1.7" />
<line x1="507.26" y1="475.25" x2="510.56" y2="475.25" stroke="#000" stroke-width="1.7" />
<line x1="321.94" y1="475.25" x2="325.24" y2="475.25" stroke="#000" stroke-width="1.7" />
<line x1="416.05" y1="475.25" x2="419.35" y2="475.25" stroke="#000" stroke-width="1.7" />
<line x1="431.73" y1="475.25" x2="435.03" y2="475.25" stroke="#000" stroke-width="1.7" />
<line x1="447.42" y1="475.25" x2="450.72" y2="475.25" stroke="#000" stroke-width="1.7" />
<line x1="463.1" y1="475.25" x2="466.4" y2="475.25" stroke="#000" stroke-width="1.7" />
<line x1="478.79" y1="475.25" x2="482.09" y2="475.25" stroke="#000" stroke-width="1.7" />
<line x1="494.47" y1="475.25" x2="497.77" y2="475.25" stroke="#000" stroke-width="1.7" />
<line x1="510.16" y1="475.25" x2="513.46" y2="475.25" stroke="#000" stroke-width="1.7" />
<line x1="324.84" y1="475.25" x2="328.14" y2="475.25" stroke="#000" stroke-width="1.7" />
<line x1="340.53" y1="475.25" x2="343.83" y2="475.25" stroke="#000" stroke-width="1.7" />
<line x1="356.21" y1="475.25" x2="359.51" y2="475.25" stroke="#000" stroke-width="1.7" />
<line x1="371.9" y1="475.25" x2="375.2" y2="475.25" stroke="#000" stroke-width="1.7" />
<line x1="387.58" y1="475.25" x2="390.88" y2="475.25" stroke="#000" stroke-width="1.7" />
<line x1="403.27" y1="475.25" x2="406.57" y2="475.25" stroke="#000" stroke-width="1.7" />
<line x1="418.95" y1="475.25" x2="422.25" y2="475.25" stroke="#000" stroke-width="1.7" />
<line x1="434.63" y1="475.25" x2="437.93" y2="475.25" stroke="#000" stroke-width="1.7" />
<line x1="450.32" y1="475.25" x2="453.62" y2="475.25" stroke="#000" stroke-width="1.7" />
<line x1="466" y1="475.25" x2="469.3" y2="475.25" stroke="#000" stroke-width="1.7" />
<line x1="481.69" y1="475.25" x2="484.99" y2="475.25" stroke="#000" stroke-width="1.7" />
<line x1="497.37" y1="475.25" x2="500.67" y2="475.25" stroke="#000" stroke-width="1.7" />
<line x1="513.06" y1="475.25" x2="516.36" y2="475.25" stroke="#000" stroke-width="1.7" />
<text transform="translate(322.14,491.2) scale(1.0,1)" font-family='"Liberation Sans", Arial, sans-serif' font-size="7.8" text-anchor="middle" style="stroke-width:0.08px">SPL</text>
<text transform="translate(337.83,491.2) scale(1.0,1)" font-family='"Liberation Sans", Arial, sans-serif' font-size="7.8" text-anchor="middle" style="stroke-width:0.08px">PLN</text>
<text transform="translate(353.51,491.2) scale(1.0,1)" font-family='"Liberation Sans", Arial, sans-serif' font-size="7.8" text-anchor="middle" style="stroke-width:0.08px">MLN</text>
<text transform="translate(369.2,491.2) scale(1.0,1)" font-family='"Liberation Sans", Arial, sans-serif' font-size="7.8" text-anchor="middle" style="stroke-width:0.08px">ILN</text>
<text transform="translate(384.88,491.2) scale(1.0,1)" font-family='"Liberation Sans", Arial, sans-serif' font-size="7.8" text-anchor="middle" style="stroke-width:0.08px">LLN</text>
<text transform="translate(400.57,491.2) scale(1.0,1)" font-family='"Liberation Sans", Arial, sans-serif' font-size="7.8" text-anchor="middle" style="stroke-width:0.08px">TLN</text>
<text transform="translate(416.25,491.2) scale(1.0,1)" font-family='"Liberation Sans", Arial, sans-serif' font-size="7.8" text-anchor="middle" style="stroke-width:0.08px">CLN</text>
<text transform="translate(431.93,491.2) scale(1.0,1)" font-family='"Liberation Sans", Arial, sans-serif' font-size="7.8" text-anchor="middle" style="stroke-width:0.08px">THY</text>
<text transform="translate(447.62,491.2) scale(1.0,1)" font-family='"Liberation Sans", Arial, sans-serif' font-size="7.8" text-anchor="middle" style="stroke-width:0.08px">POT</text>
<text transform="translate(463.3,491.2) scale(1.0,1)" font-family='"Liberation Sans", Arial, sans-serif' font-size="7.8" text-anchor="middle" style="stroke-width:0.08px">LIV</text>
<text transform="translate(478.99,491.2) scale(1.0,1)" font-family='"Liberation Sans", Arial, sans-serif' font-size="7.8" text-anchor="middle" style="stroke-width:0.08px">LGS</text>
<text transform="translate(494.67,491.2) scale(1.0,1)" font-family='"Liberation Sans", Arial, sans-serif' font-size="7.8" text-anchor="middle" style="stroke-width:0.08px">KID</text>
<text transform="translate(510.36,491.2) scale(1.0,1)" font-family='"Liberation Sans", Arial, sans-serif' font-size="7.8" text-anchor="middle" style="stroke-width:0.08px">INT</text>
<text x="448.8" y="363.3" font-family='"Liberation Sans", Arial, sans-serif' font-size="12.5" text-anchor="start" font-weight="bold" font-style="normal" fill="#000" >FVB (i.p.)</text>
<rect x="85.48" y="230.54" width="4.3" height="36.22" fill="#d9d9d9"/>
<line x1="87.63" y1="230.54" x2="87.63" y2="266.76" stroke="#777" stroke-width="0.7" />
<text x="0.6" y="10.7" font-family='"Liberation Sans", Arial, sans-serif' font-size="15.2" text-anchor="start" font-weight="bold" font-style="normal" fill="#000" >A</text>
<text x="-0.8" y="342.9" font-family='"Liberation Sans", Arial, sans-serif' font-size="14.6" text-anchor="start" font-weight="bold" font-style="normal" fill="#000" >B</text>
<text transform="translate(16.7,126.8) rotate(-90)" font-family='"Liberation Sans", Arial, sans-serif' font-size="9.9" text-anchor="end" textLength="64.7" lengthAdjust="spacingAndGlyphs">RLU/mg tissue</text>
<text transform="translate(11.2,372.4) rotate(-90)" font-family='"Liberation Sans", Arial, sans-serif' font-size="9.9" text-anchor="end" textLength="65" lengthAdjust="spacingAndGlyphs">RLU/mg tissue</text>
<text x="99" y="41.8" font-family='"Liberation Sans", Arial, sans-serif' font-size="9.8" textLength="33.3" lengthAdjust="spacingAndGlyphs"><tspan font-style="italic">P</tspan> &lt; .003</text>
<text x="100.6" y="94.3" font-family='"Liberation Sans", Arial, sans-serif' font-size="9.8" textLength="28.6" lengthAdjust="spacingAndGlyphs"><tspan font-style="italic">P</tspan> &lt; .03</text>
<text x="345" y="47.2" font-family='"Liberation Sans", Arial, sans-serif' font-size="9.8" textLength="33.2" lengthAdjust="spacingAndGlyphs"><tspan font-style="italic">P</tspan> &lt; .007</text>
<text x="349.5" y="114" font-family='"Liberation Sans", Arial, sans-serif' font-size="9.8" textLength="33.2" lengthAdjust="spacingAndGlyphs"><tspan font-style="italic">P</tspan> &lt; .001</text>
<text x="100.5" y="184" font-family='"Liberation Sans", Arial, sans-serif' font-size="9.8" textLength="43.6" lengthAdjust="spacingAndGlyphs"><tspan font-style="italic">P</tspan> &lt; .00002</text>
<text x="90.2" y="373.6" font-family='"Liberation Sans", Arial, sans-serif' font-size="9.8" textLength="33.3" lengthAdjust="spacingAndGlyphs"><tspan font-style="italic">P</tspan> &lt; .003</text>
<rect x="200.8" y="88.9" width="6.4" height="6.4" fill="#c2c2c2" stroke="#000" stroke-width="1"/>
<text x="215.5" y="96.1" font-family='"Liberation Sans", Arial, sans-serif' font-size="10.3" text-anchor="start" font-weight="normal" font-style="normal" fill="#000" textLength="28.4" lengthAdjust="spacingAndGlyphs" >Day 3</text>
<rect x="200.8" y="101.8" width="6.4" height="6.4" fill="#404040" stroke="#000" stroke-width="1"/>
<text x="215.5" y="109.3" font-family='"Liberation Sans", Arial, sans-serif' font-size="10.3" text-anchor="start" font-weight="normal" font-style="normal" fill="#000" textLength="28.4" lengthAdjust="spacingAndGlyphs" >Day 5</text>
<rect x="208.8" y="398.4" width="5.2" height="5.2" fill="#fff" stroke="#000" stroke-width="1.1"/>
<text x="216.8" y="404.5" font-family='"Liberation Sans", Arial, sans-serif' font-size="10.3" text-anchor="start" font-weight="normal" font-style="normal" fill="#000" textLength="27.7" lengthAdjust="spacingAndGlyphs" >Day 1</text>
<rect x="208.8" y="414.6" width="5.2" height="5.2" fill="#c2c2c2" stroke="#000" stroke-width="1.1"/>
<text x="216.8" y="420.7" font-family='"Liberation Sans", Arial, sans-serif' font-size="10.3" text-anchor="start" font-weight="normal" font-style="normal" fill="#000" textLength="27.7" lengthAdjust="spacingAndGlyphs" >Day 3</text>
<rect x="208.8" y="430.7" width="5.2" height="5.2" fill="#404040" stroke="#000" stroke-width="1.1"/>
<text x="216.8" y="436.8" font-family='"Liberation Sans", Arial, sans-serif' font-size="10.3" text-anchor="start" font-weight="normal" font-style="normal" fill="#000" textLength="27.7" lengthAdjust="spacingAndGlyphs" >Day 6</text>
<rect x="208.8" y="446.3" width="5.2" height="5.2" fill="#000" stroke="#000" stroke-width="1.1"/>
<text x="216.8" y="452.4" font-family='"Liberation Sans", Arial, sans-serif' font-size="10.3" text-anchor="start" font-weight="normal" font-style="normal" fill="#000" textLength="34.2" lengthAdjust="spacingAndGlyphs" >Day 12</text>
</g>
</svg>
</body></html>
